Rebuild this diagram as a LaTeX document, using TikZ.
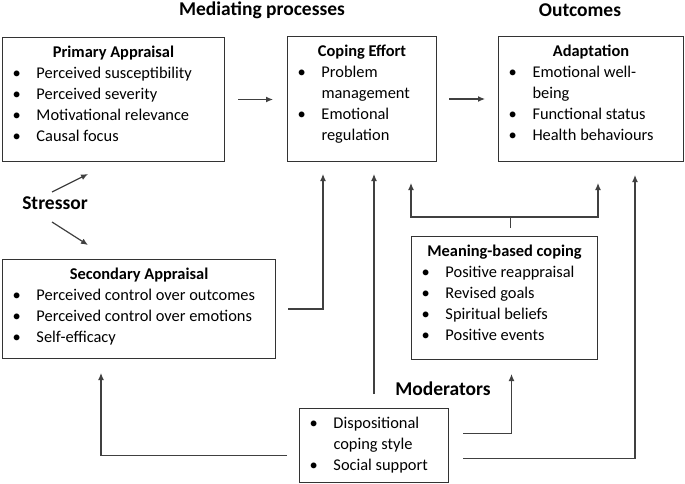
\documentclass[tikz,border=0pt]{standalone}
\usepackage{fontspec}
\setmainfont{Carlito}
\usetikzlibrary{arrows.meta}

% one bullet line, and the wrapped rest of a bullet
\newcommand{\bul}[1]{\par\noindent\hspace*{10pt}\makebox[24pt][l]{\textbullet}#1}
\newcommand{\cont}[1]{\par\noindent\hspace*{34pt}#1}
% box text: width, height, title, lines
\newcommand{\panel}[4]{\parbox[c][#2][t]{#1}{\vspace*{8.5pt}{\centering\bfseries #3\par}#4}}

\begin{document}
\begin{tikzpicture}[x=1pt, y=-1pt,
  panel/.style={draw=black!80, line width=1pt, inner sep=0pt, anchor=north west,
    font=\fontsize{16.4}{21}\selectfont},
  heading/.style={font=\fontsize{19.5}{22}\selectfont\bfseries},
  link/.style={draw=black!75, line width=1.2pt},
  arr/.style={link, -{Latex[length=7pt,width=6pt]}}]
\useasboundingbox (0,0) rectangle (685,484);

% headings
\node[heading] (medhead) at (262,10) {Mediating processes};
\node[heading] (outhead) at (580,10) {Outcomes};
\node[heading] (stressor) at (55,203) {Stressor};
\node[heading] (modhead) at (443,389) {Moderators};

% boxes
\node[panel] (pa) at (2,37) {\panel{222pt}{124pt}{Primary Appraisal}{%
  \bul{Perceived susceptibility}\bul{Perceived severity}%
  \bul{Motivational relevance}\bul{Causal focus}}};
\node[panel] (ce) at (287,36) {\panel{149pt}{125pt}{Coping Effort}{%
  \bul{Problem}\cont{management}\bul{Emotional}\cont{regulation}}};
\node[panel] (ad) at (498,36) {\panel{185pt}{125pt}{Adaptation}{%
  \bul{Emotional well-}\cont{being}\bul{Functional status}\bul{Health behaviours}}};
\node[panel] (sa) at (2,259) {\panel{273pt}{99pt}{Secondary Appraisal}{%
  \bul{Perceived control over outcomes}\bul{Perceived control over emotions}%
  \bul{Self-efficacy}}};
\node[panel] (mb) at (411,236) {\panel{186pt}{123pt}{Meaning-based coping}{%
  \bul{Positive reappraisal}\bul{Revised goals}\bul{Spiritual beliefs}%
  \bul{Positive events}}};
\node[panel] (mo) at (299,408) {\panel{149pt}{74pt}{}{%
  \bul{Dispositional}\cont{coping style}\bul{Social support}}};

% mediating chain
\draw[arr, shorten <=13pt, shorten >=14pt] (pa.east) -- (pa.east -| ce.west);
\draw[arr, shorten <=12pt, shorten >=13pt] (ce.east) -- (ce.east -| ad.west);
\draw[arr] ([xshift=-3pt,yshift=11pt]stressor.center) -- ([xshift=86pt,yshift=-12pt]pa.south west);
\draw[arr] ([xshift=-3pt,yshift=-19pt]stressor.center) -- ([xshift=86pt,yshift=14pt]sa.north west);
\draw[arr, shorten <=12pt, shorten >=12pt] (sa.east) -| ([xshift=36pt]ce.south west);

% meaning-based coping
\coordinate (split) at ([xshift=6pt,yshift=19pt]mb.north);
\draw[link] ([xshift=6pt,yshift=8pt]mb.north) -- (split);
\draw[arr, shorten >=21pt] (split) -| (mb.north west |- ce.south);
\draw[arr, shorten >=21pt] (split) -| (mb.north east |- ad.south);

% moderators
\draw[arr, shorten <=14pt, shorten >=12pt] (mo.north) -- (mo.north |- ce.south);
\draw[arr, shorten <=14pt, shorten >=14pt] ([yshift=12pt]mo.east) -| ([xshift=7pt]mb.south);
\draw[arr, shorten <=14pt, shorten >=13pt] ([yshift=-13pt]mo.east) -| ([xshift=-49pt]ad.south east);
\draw[arr, shorten <=12pt, shorten >=14pt] ([yshift=-10pt]mo.west) -| ([xshift=99pt]sa.south west);
\end{tikzpicture}
\end{document}
